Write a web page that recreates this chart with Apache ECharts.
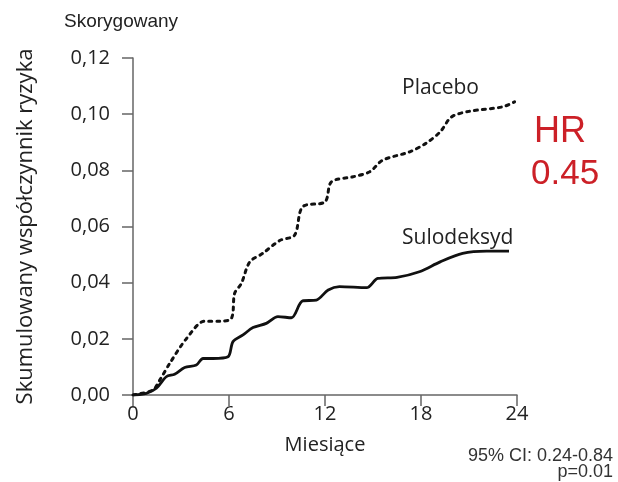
<!DOCTYPE html>
<html><head><meta charset="utf-8">
<script src="https://cdn.jsdelivr.net/npm/echarts@6/dist/echarts.min.js"></script>
<style>html,body{margin:0;padding:0;background:#fff}#c{width:618px;height:482px}</style>
</head><body><div id="c"></div>
<script>
const placeboMonths = [0,1.25,1.67,2.3,3.33,4.48,5.4,6.15,6.35,6.77,7.3,8.1,9.17,10.1,10.6,12,12.4,13.75,14.8,15.6,17.3,18.3,19.2,19.9,21.0,23.1,23.85];
const placeboRisk   = [0,0.0018,0.0053,0.0113,0.020,0.0263,0.0263,0.0273,0.0362,0.0397,0.0474,0.0504,0.055,0.0569,0.067,0.0688,0.0759,0.0777,0.0795,0.0836,0.0866,0.0896,0.0937,0.099,0.101,0.1026,0.1044];
const suloMonths = [0,0.83,1.46,2.08,2.6,3.23,3.96,4.375,5.0,5.94,6.25,6.875,7.5,8.33,9.06,9.9,10.6,11.46,12.2,12.9,14.6,15.3,16.5,17.9,19.2,20.6,22.1,23.5];
const suloRisk   = [0,0.0006,0.0024,0.0065,0.0074,0.0098,0.0107,0.013,0.013,0.0136,0.019,0.0214,0.024,0.0255,0.0279,0.0275,0.0335,0.0338,0.0374,0.0386,0.0382,0.0415,0.0419,0.0439,0.0474,0.0504,0.0512,0.0512];
const xTicks = [0,6,12,18,24];
const yTickLabels = ['0,00','0,02','0,04','0,06','0,08','0,10','0,12'];

const chart = echarts.init(document.getElementById('c'));
const axisColor = '#666';
chart.setOption({
  animation:false,
  grid:{left:133,right:101,top:58,bottom:87},
  xAxis:{type:'value',min:0,max:24,interval:6,
    axisLine:{lineStyle:{color:axisColor,width:1.5}},
    axisTick:{show:true,length:11,lineStyle:{color:axisColor,width:1.5}},
    splitLine:{show:false},
    axisLabel:{color:'#222',fontSize:20,fontFamily:'Open Sans',margin:9,
      formatter:v=>xTicks.includes(v)?String(v):''},
    name:'Miesiące',nameLocation:'middle',nameGap:40,
    nameTextStyle:{color:'#222',fontSize:20,fontFamily:'Open Sans'}},
  yAxis:{type:'value',min:0,max:0.12,interval:0.02,
    axisLine:{show:true,lineStyle:{color:axisColor,width:1.5}},
    axisTick:{show:true,length:11,lineStyle:{color:axisColor,width:1.5}},
    splitLine:{show:false},
    axisLabel:{color:'#222',fontSize:20,fontFamily:'Open Sans',margin:23,
      formatter:v=>yTickLabels[Math.round(v/0.02)]},
    name:'Skumulowany współczynnik ryzyka',nameLocation:'middle',nameGap:96,nameRotate:90,
    nameTextStyle:{color:'#222',fontSize:22,fontFamily:'Open Sans'}},
  series:[
    {type:'line',data:placeboMonths.map((m,i)=>[m,placeboRisk[i]]),smooth:0.3,symbol:'none',
      lineStyle:{color:'#111',width:3,type:[3,5],cap:'round'}},
    {type:'line',data:suloMonths.map((m,i)=>[m,suloRisk[i]]),smooth:0.3,symbol:'none',
      lineStyle:{color:'#111',width:2.8}}
  ],
  graphic:[
    {type:'text',left:64,top:12,style:{text:'Skorygowany',fontSize:19,fontFamily:'Liberation Sans',fill:'#222'}},
    {type:'text',left:402,top:78,style:{text:'Placebo',fontSize:21,fontFamily:'Open Sans',fill:'#222'}},
    {type:'text',left:402,top:228,style:{text:'Sulodeksyd',fontSize:21,fontFamily:'Open Sans',fill:'#222'}},
    {type:'text',left:534,top:114,style:{text:'HR',fontSize:36,fontFamily:'Liberation Sans',fill:'#cc2027'}},
    {type:'text',left:531,top:157,style:{text:'0.45',fontSize:35,fontFamily:'Liberation Sans',fill:'#cc2027'}},
    {type:'text',right:5,top:447,style:{text:'95% CI: 0.24-0.84',fontSize:18,fontFamily:'Liberation Sans',fill:'#333',align:'right'}},
    {type:'text',right:5,top:463,style:{text:'p=0.01',fontSize:18,fontFamily:'Liberation Sans',fill:'#333',align:'right'}}
  ]
});
</script></body></html>
